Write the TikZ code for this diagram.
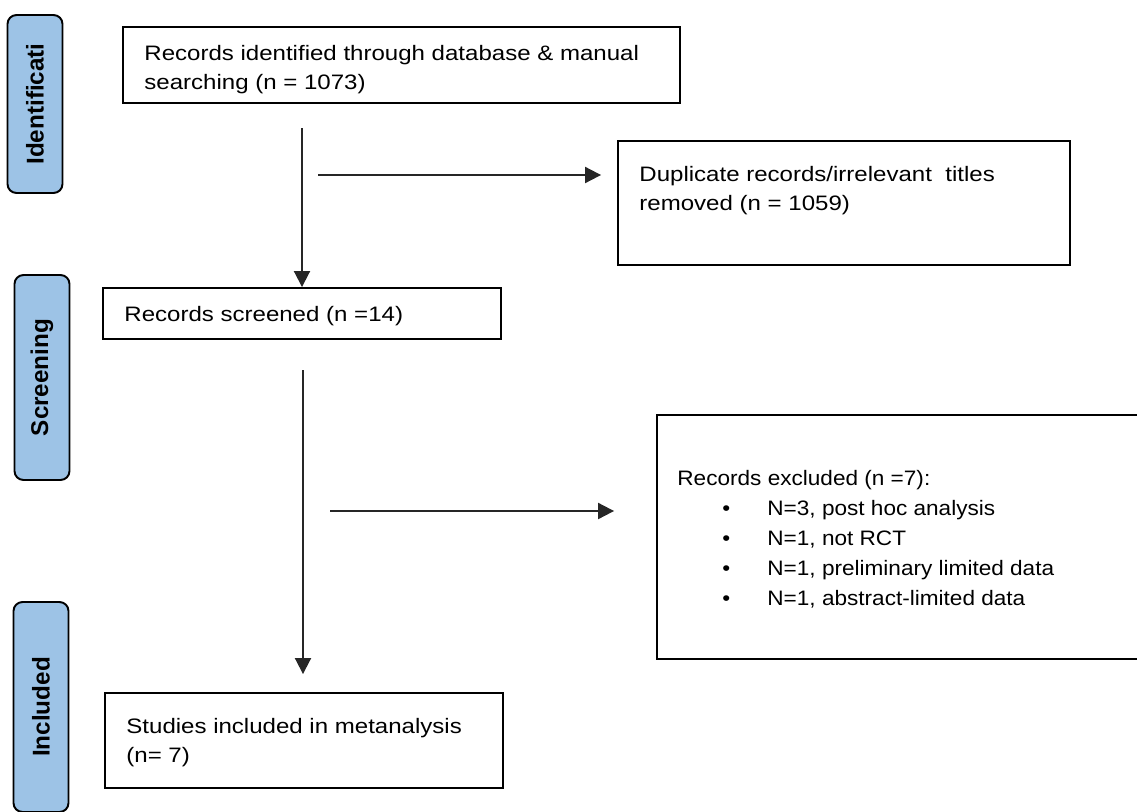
\documentclass[tikz,border=0pt]{standalone}
\usepackage{fontspec}
\setmainfont{Liberation Sans}[FakeStretch=1.15]
\newfontfamily\exclfont{Liberation Sans}[FakeStretch=1.08]
\newfontfamily\phasefont{Liberation Sans}
\usepackage{tikz}
\usetikzlibrary{arrows.meta,positioning}
\definecolor{phaseblue}{RGB}{157,195,230}
\newcommand{\exclitem}[1]{\hspace*{0.9cm}\makebox[0.9cm][l]{\textbullet}#1}

\begin{document}
\begin{tikzpicture}[x=0.02cm, y=0.02cm,
  stagebox/.style={draw=black, line width=1.1pt, inner sep=0pt},
  boxtext/.style={align=left, inner sep=0pt, font=\fontsize{11.9}{16.5}\selectfont},
  phase/.style={draw=black, line width=1.1pt, fill=phaseblue, rounded corners=0.18cm,
    rotate=90, minimum height=1.1cm, font=\phasefont\bfseries\fontsize{13.8}{16}\selectfont},
  flow/.style={line width=1.1pt, draw=black!85, -{Triangle[length=0.32cm, width=0.32cm]}}]
  \useasboundingbox (0,0) rectangle (1137,-812);

  % phases on the left
  \node (ident) [phase, minimum width=3.56cm] at (35,-104) {Identificati};
  \node (screen) [phase, minimum width=4.1cm] at (42,-377.5) {Screening};
  \node (incl) [phase, minimum width=4.2cm] at (41,-707) {Included};

  % boxes
  \node (found) [stagebox, minimum width=11.14cm, minimum height=1.52cm] at (401.5,-65) {};
  \node (dup) [stagebox, minimum width=9.04cm, minimum height=2.48cm] at (844,-203) {};
  \node (screened) [stagebox, minimum width=7.96cm, minimum height=1.02cm] at (302,-313.5) {};
  \node (excluded) [stagebox, minimum width=9.7cm, minimum height=4.88cm] at (899.5,-537) {};
  \node (included) [stagebox, minimum width=7.96cm, minimum height=1.9cm] at (304,-740.5) {};

  % texts
  \node (foundtext) [boxtext, below right=0.38cm and 0.44cm of found.north west]
    {Records identified through database \& manual\\searching (n = 1073)};
  \node (duptext) [boxtext, below right=0.52cm and 0.44cm of dup.north west]
    {Duplicate records/irrelevant\ \ titles\\removed (n = 1059)};
  \node (screenedtext) [boxtext, below right=0.38cm and 0.44cm of screened.north west]
    {Records screened (n =14)};
  \node (excludedtext) [boxtext, font=\exclfont\fontsize{11.9}{17}\selectfont,
    below right=1.12cm and 0.42cm of excluded.north west]
    {Records excluded (n =7):\\
     \exclitem{N=3, post hoc analysis}\\
     \exclitem{N=1, not RCT}\\
     \exclitem{N=1, preliminary limited data}\\
     \exclitem{N=1, abstract-limited data}};
  \node (includedtext) [boxtext, below right=0.52cm and 0.44cm of included.north west]
    {Studies included in metanalysis\\(n= 7)};

  % arrows
  \coordinate (c1) at (302,-128);
  \coordinate (h1) at (318,-175);
  \coordinate (c2) at (303,-370);
  \coordinate (h2) at (330,-511);
  \draw[flow] (c1) -- (c1 |- screened.north);
  \draw[flow, shorten >=0.32cm] (h1) -- (h1 -| dup.west);
  \draw[flow, shorten >=0.36cm] (c2) -- (c2 |- included.north);
  \draw[flow, shorten >=0.84cm] (h2) -- (h2 -| excluded.west);
\end{tikzpicture}
\end{document}
